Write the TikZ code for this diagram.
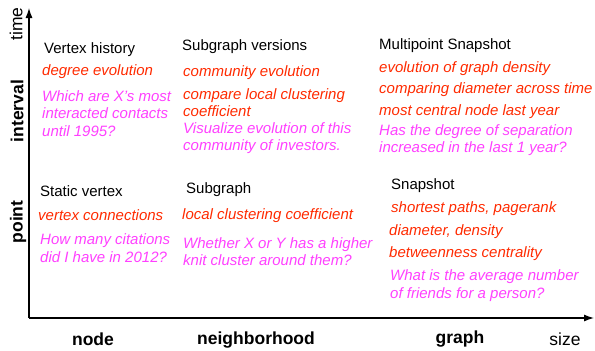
\documentclass[tikz,border=0pt]{standalone}
\usepackage{fontspec}
\setmainfont{Liberation Sans}
\usetikzlibrary{arrows.meta}
\definecolor{taskred}{RGB}{255,42,0}
\definecolor{querypink}{RGB}{255,64,255}
\tikzstyle{head} = [anchor=west, inner sep=0pt, font=\fontsize{15}{17.5}\selectfont]
\tikzstyle{task} = [head, text=taskred, font=\fontsize{15}{17.5}\selectfont\itshape, align=left]
\tikzstyle{query} = [task, text=querypink]
\tikzstyle{axislabel} = [inner sep=0pt, font=\fontsize{17.5}{20}\selectfont]
\tikzstyle{granule} = [axislabel, font=\fontsize{17.5}{20}\selectfont\bfseries]

\begin{document}
\begin{tikzpicture}[x=1pt, y=-1pt]
      \useasboundingbox (0,0) rectangle (595,351);
      \coordinate (o) at (29,318);
      \coordinate (t) at (29,8);
      \coordinate (s) at (594,318);
      \draw[line width=1.2pt, -{Latex[length=10pt,width=7pt]}] (o) -- (t);
      \draw[line width=1.2pt, -{Latex[length=10pt,width=7pt]}] (o) -- (s);
      % axis labels
      \node[axislabel, rotate=90] (time) at (16,24) {time};
      \node[granule, rotate=90] (interval) at (17,111) {interval};
      \node[granule, rotate=90] (point) at (18,222) {point};
      \node[granule] (node) at (93,339) {node};
      \node[granule] (nbhd) at (256,340) {neighborhood};
      \node[granule] (graph) at (460,339) {graph};
      \node[axislabel] (size) at (565,339) {size};
      % interval row
      \node[head] (vh) at (44,50) {Vertex history};
      \node[task] (vh1) at (42,72) {degree evolution};
      \node[query] (vhq) at (42,113.5) {Which are X's most\\interacted contacts\\until 1995?};
      \node[head] (sv) at (182,47) {Subgraph versions};
      \node[task] (sv1) at (183,73) {community evolution};
      \node[task] (sv2) at (183,102.5) {compare local clustering\\coefficient};
      \node[query] (svq) at (183,138) {Visualize evolution of this\\community of investors.};
      \node[head] (ms) at (379,46) {Multipoint Snapshot};
      \node[task] (ms1) at (379,69) {evolution of graph density};
      \node[task] (ms2) at (379,90) {comparing diameter across time};
      \node[task] (ms3) at (379,112) {most central node last year};
      \node[query] (msq) at (379,140) {Has the degree of separation\\increased in the last 1 year?};
      % point row
      \node[head] (st) at (40,191) {Static vertex};
      \node[task] (st1) at (38,215) {vertex connections};
      \node[query] (stq) at (40,248) {How many citations\\did I have in 2012?};
      \node[head] (sg) at (186,190) {Subgraph};
      \node[task] (sg1) at (182,216) {local clustering coefficient};
      \node[query] (sgq) at (183,251.5) {Whether X or Y has a higher\\knit cluster around them?};
      \node[head] (sn) at (391,186) {Snapshot};
      \node[task] (sn1) at (391,209) {shortest paths, pagerank};
      \node[task] (sn2) at (389,232) {diameter, density};
      \node[task] (sn3) at (389,254) {betweenness centrality};
      \node[query] (snq) at (390,285.5) {What is the average number\\of friends for a person?};
\end{tikzpicture}
\end{document}
